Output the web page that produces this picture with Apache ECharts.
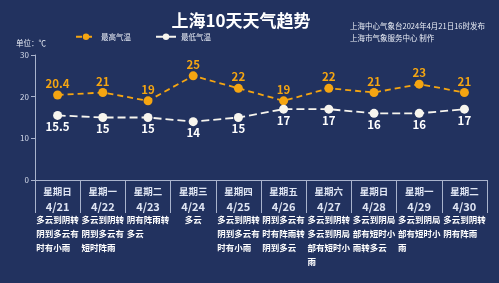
<!DOCTYPE html>
<html>
<head>
<meta charset="utf-8">
<script src="https://cdn.jsdelivr.net/npm/echarts@6/dist/echarts.min.js"></script>
<style>
  html, body { margin: 0; padding: 0; background: #22325f; }
  #chart { width: 499px; height: 283px; }
</style>
</head>
<body>
<div id="chart"></div>
<script>
const weekdays = ['星期日', '星期一', '星期二', '星期三', '星期四', '星期五', '星期六', '星期日', '星期一', '星期二']
const dates = ['4/21', '4/22', '4/23', '4/24', '4/25', '4/26', '4/27', '4/28', '4/29', '4/30']
const weather = [
  '多云到阴转\n阴到多云有\n时有小雨',
  '多云到阴转\n阴到多云有\n短时阵雨',
  '阴有阵雨转\n多云',
  '多云',
  '多云到阴转\n阴到多云有\n时有小雨',
  '阴到多云有\n时有阵雨转\n阴到多云',
  '多云到阴转\n多云到阴局\n部有短时小\n雨',
  '多云到阴局\n部有短时小\n雨转多云',
  '多云到阴局\n部有短时小\n雨',
  '多云到阴转\n阴有阵雨'
]
const highTemp = [20.4, 21, 19, 25, 22, 19, 22, 21, 23, 21]
const lowTemp = [15.5, 15, 15, 14, 15, 17, 17, 16, 16, 17]
const yTicks = [0, 10, 20, 30]

const font = '"Noto Sans CJK SC", "Noto Sans", sans-serif'
const orange = '#f5a511'
const axisColor = '#a9b3cc'

const chart = echarts.init(document.getElementById('chart'))
chart.setOption({
  backgroundColor: '#22325f',
  textStyle: { fontFamily: font },
  title: [
    {
      text: '上海10天天气趋势',
      left: 236, top: 7, textAlign: 'center',
      textStyle: { color: '#fff', fontSize: 17, fontWeight: 'bold', fontFamily: font }
    },
    {
      text: '上海中心气象台2024年4月21日16时发布\n上海市气象服务中心 制作',
      right: 9, top: 15,
      textStyle: { color: '#e8ecf5', fontSize: 7.5, fontWeight: 'normal', lineHeight: 12, align: 'right', fontFamily: font }
    }
  ],
  legend: {
    left: 70, top: 28,
    itemWidth: 20, itemHeight: 8, itemGap: 24,
    textStyle: { color: '#e8ecf5', fontSize: 7.5, fontFamily: font },
    data: ['最高气温', '最低气温']
  },
  grid: { left: 35, right: 12, top: 55, bottom: 103 },
  xAxis: [
    {
      type: 'category',
      data: dates,
      boundaryGap: true,
      axisLine: { lineStyle: { color: axisColor, width: 1 } },
      axisTick: { show: true, interval: 0, length: 33, lineStyle: { color: axisColor } },
      axisLabel: {
        interval: 0,
        margin: 4,
        formatter: (v, i) => '{d|' + weekdays[i] + '}\n{n|' + v + '}',
        rich: {
          d: { color: '#dfe5f3', fontSize: 9.5, fontWeight: 'bold', lineHeight: 15, fontFamily: font },
          n: { color: '#dfe5f3', fontSize: 11, fontWeight: 'bold', lineHeight: 15, fontFamily: font }
        }
      }
    },
    {
      type: 'category',
      data: weather,
      position: 'bottom',
      boundaryGap: true,
      axisLine: { show: false },
      axisTick: { show: false },
      axisLabel: {
        interval: 0,
        margin: 33,
        formatter: v => v.split('\n').map(s => '{t|' + s + '}').join('\n'),
        rich: {
          t: { color: '#ffffff', fontSize: 8.5, fontWeight: 'bold', lineHeight: 14, align: 'left', fontFamily: font }
        }
      }
    }
  ],
  yAxis: {
    type: 'value',
    min: yTicks[0], max: yTicks[yTicks.length - 1], interval: 10,
    name: '单位：℃',
    nameGap: 8,
    nameTextStyle: { color: '#e8ecf5', fontSize: 7.5, padding: [0, 8, 0, 0], fontFamily: font },
    axisLine: { show: true, lineStyle: { color: axisColor } },
    axisTick: { show: true, length: 4, lineStyle: { color: axisColor } },
    splitLine: { show: false },
    axisLabel: { color: '#d5dbea', fontSize: 8, margin: 6 }
  },
  series: [
    {
      name: '最高气温',
      type: 'line',
      data: highTemp,
      symbol: 'circle', symbolSize: 9,
      itemStyle: { color: orange },
      lineStyle: { color: orange, width: 1.8, type: [6, 4] },
      label: { show: true, position: 'top', distance: 1, color: orange, fontSize: 11.5, fontWeight: 'bold', fontFamily: font }
    },
    {
      name: '最低气温',
      type: 'line',
      data: lowTemp,
      symbol: 'circle', symbolSize: 9,
      itemStyle: { color: '#f7f5ee' },
      lineStyle: { color: '#f7f5ee', width: 1.8, type: [8, 4] },
      label: { show: true, position: 'bottom', distance: 1, color: '#ffffff', fontSize: 11.5, fontWeight: 'bold', fontFamily: font }
    }
  ]
})
window.addEventListener('resize', () => {
  if (chart) chart.resize()
})
</script>
</body>
</html>
